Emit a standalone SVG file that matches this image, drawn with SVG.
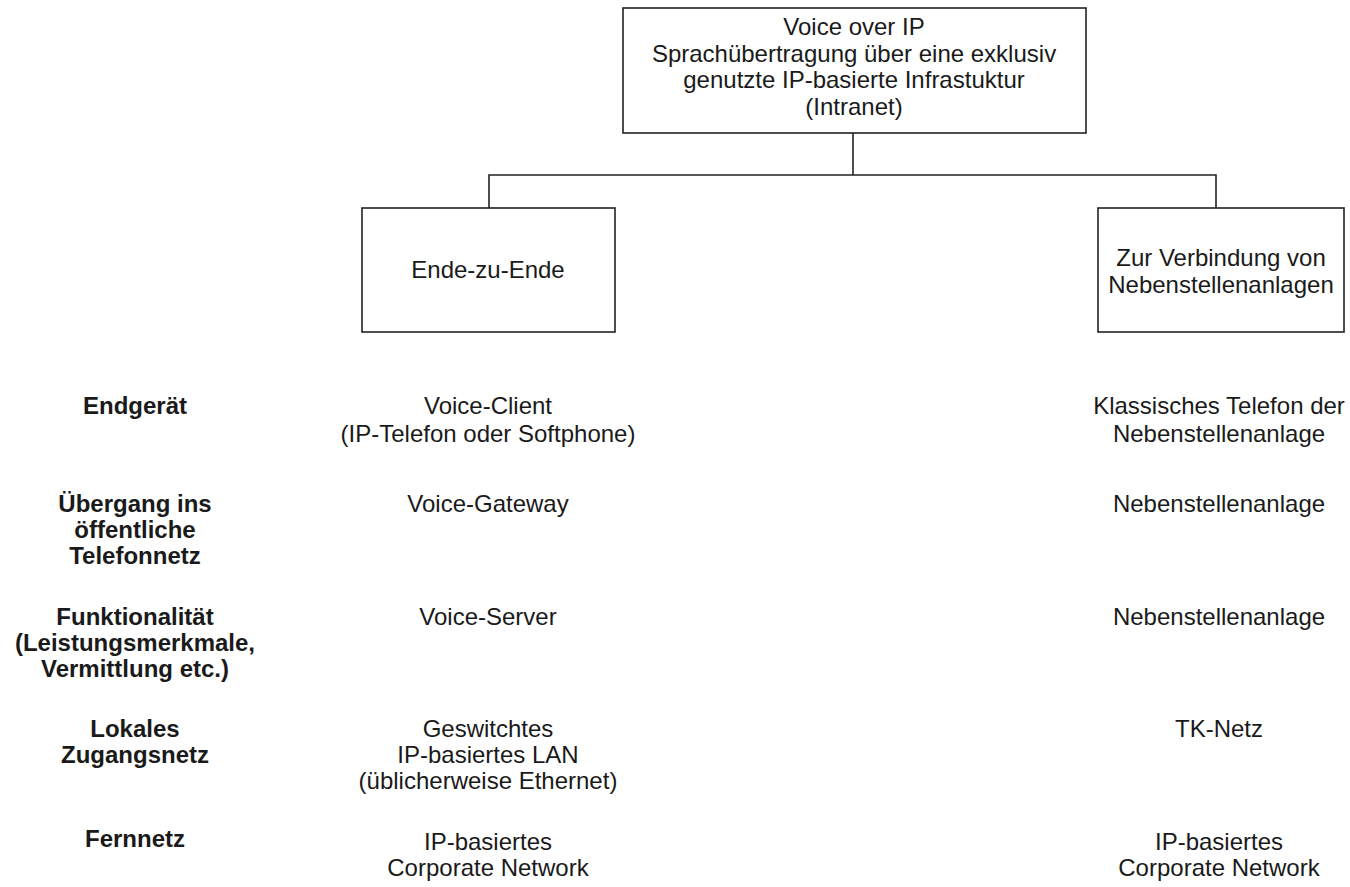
<svg xmlns="http://www.w3.org/2000/svg" width="1350" height="887" viewBox="0 0 1350 887">
  <style>
    .box { fill: #ffffff; stroke: #222222; stroke-width: 1.6; }
    .wire { fill: none; stroke: #222222; stroke-width: 1.6; }
    text { font-family: "Liberation Sans", Arial, sans-serif; font-size: 24px; fill: #1a1a1a; text-anchor: middle; }
    .lbl { font-weight: bold; }
  </style>
  <rect width="1350" height="887" fill="#ffffff"/>

  <!-- tree connectors -->
  <g id="connectors">
    <path class="wire" d="M853,133 V175"/>
    <path class="wire" d="M489,208 V175 H1216 V208"/>
  </g>

  <g id="root">
    <rect class="box" x="623" y="8" width="463" height="125"/>
    <text x="854" y="35">Voice over IP</text>
    <text x="854" y="62">Sprachübertragung über eine exklusiv</text>
    <text x="854" y="88">genutzte IP-basierte Infrastuktur</text>
    <text x="854" y="115">(Intranet)</text>
  </g>

  <g id="ende-zu-ende">
    <rect class="box" x="362" y="208" width="253" height="124"/>
    <text x="488" y="278">Ende-zu-Ende</text>
  </g>

  <g id="nebenstellen">
    <rect class="box" x="1098" y="208" width="246" height="124"/>
    <text x="1221" y="266">Zur Verbindung von</text>
    <text x="1221" y="293">Nebenstellenanlagen</text>
  </g>

  <!-- row labels -->
  <g id="labels">
    <text class="lbl" x="135" y="414">Endgerät</text>
    <text class="lbl" x="135" y="512">Übergang ins</text>
    <text class="lbl" x="135" y="538">öffentliche</text>
    <text class="lbl" x="135" y="564">Telefonnetz</text>
    <text class="lbl" x="135" y="625">Funktionalität</text>
    <text class="lbl" x="135" y="651">(Leistungsmerkmale,</text>
    <text class="lbl" x="135" y="677">Vermittlung etc.)</text>
    <text class="lbl" x="135" y="737">Lokales</text>
    <text class="lbl" x="135" y="763">Zugangsnetz</text>
    <text class="lbl" x="135" y="847">Fernnetz</text>
  </g>

  <!-- left column -->
  <g id="col-ende">
    <text x="488" y="414">Voice-Client</text>
    <text x="488" y="442">(IP-Telefon oder Softphone)</text>
    <text x="488" y="512">Voice-Gateway</text>
    <text x="488" y="625">Voice-Server</text>
    <text x="488" y="737">Geswitchtes</text>
    <text x="488" y="763">IP-basiertes LAN</text>
    <text x="488" y="789">(üblicherweise Ethernet)</text>
    <text x="488" y="850">IP-basiertes</text>
    <text x="488" y="876">Corporate Network</text>
  </g>

  <!-- right column -->
  <g id="col-neben">
    <text x="1219" y="414">Klassisches Telefon der</text>
    <text x="1219" y="442">Nebenstellenanlage</text>
    <text x="1219" y="512">Nebenstellenanlage</text>
    <text x="1219" y="625">Nebenstellenanlage</text>
    <text x="1219" y="737">TK-Netz</text>
    <text x="1219" y="850">IP-basiertes</text>
    <text x="1219" y="876">Corporate Network</text>
  </g>
</svg>
